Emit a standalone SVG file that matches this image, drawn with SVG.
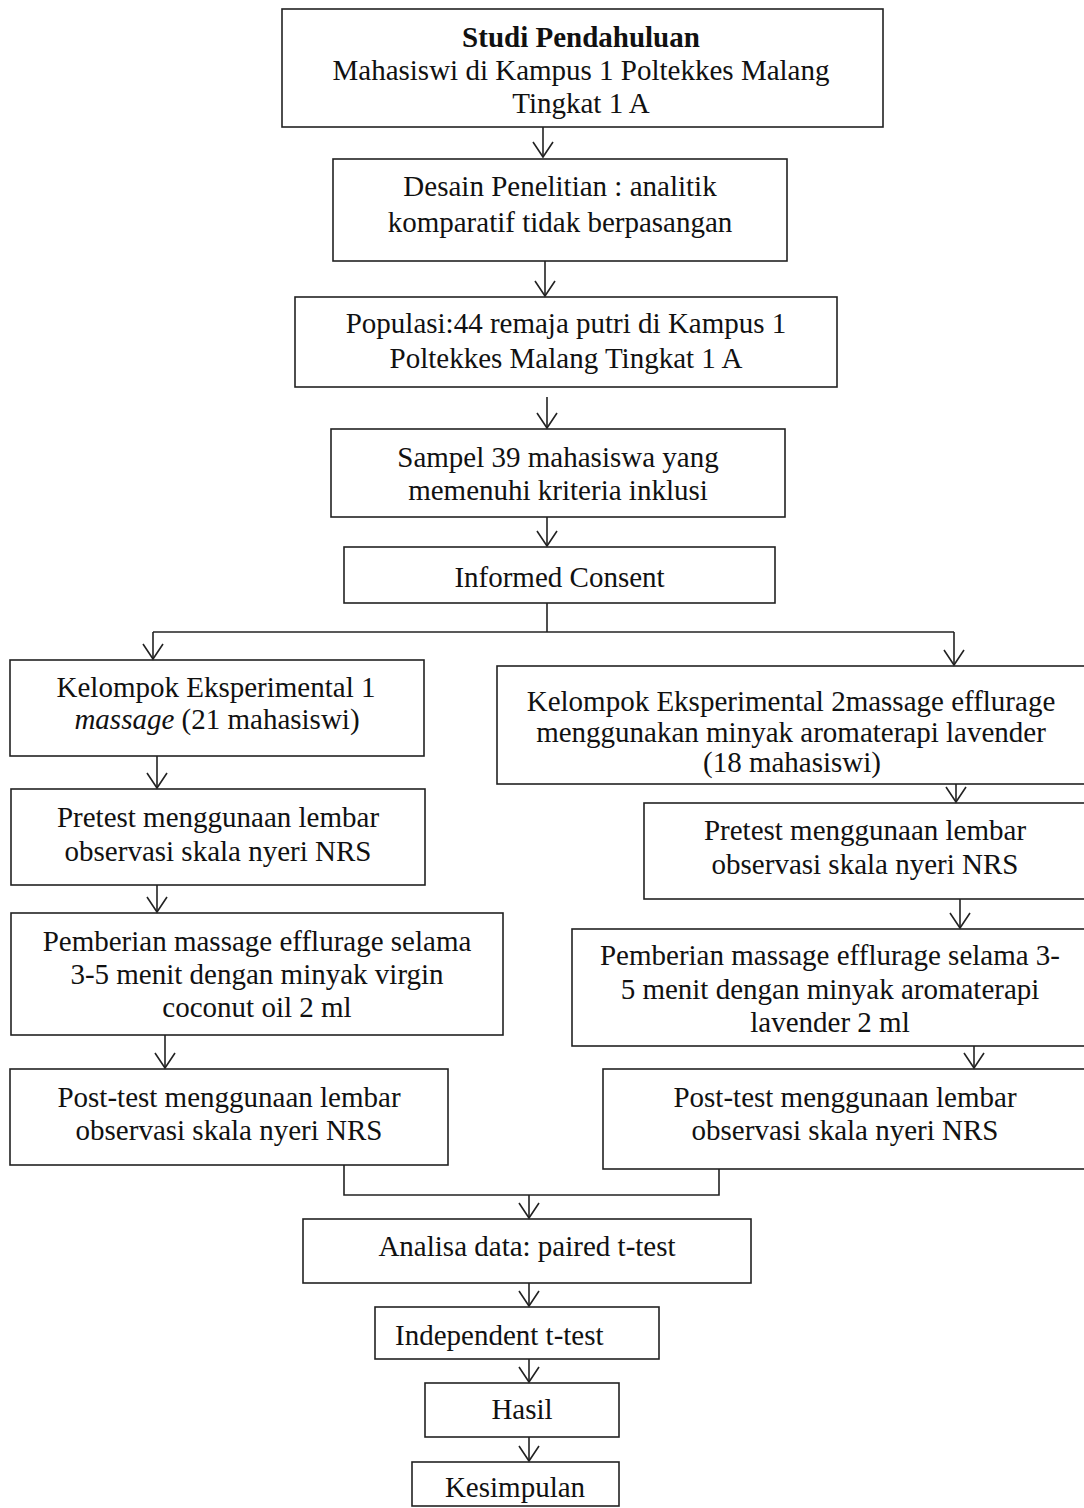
<svg xmlns="http://www.w3.org/2000/svg" width="1084" height="1508" viewBox="0 0 1084 1508">
<style>
.box{fill:#fff;stroke:#222;stroke-width:1.6}
.t{font-family:"Liberation Serif","Times New Roman",serif;font-size:29px;fill:#111;text-anchor:middle}
.c{fill:none;stroke:#222;stroke-width:1.6}
</style>
<defs>
<marker id="ah" markerUnits="userSpaceOnUse" markerWidth="40" markerHeight="40" viewBox="-20 -20 40 40" refX="0" refY="0" orient="auto" overflow="visible">
<path d="M-15,-10 L0,0 L-15,10" fill="none" stroke="#222" stroke-width="1.6"/>
</marker>
</defs>
<rect width="1084" height="1508" fill="#fff"/>
<g id="n1"><rect class="box" x="282" y="9" width="601" height="118"/>
<text class="t" x="581" y="47" font-weight="bold">Studi Pendahuluan</text>
<text class="t" x="581" y="80">Mahasiswi di Kampus 1 Poltekkes Malang</text>
<text class="t" x="581" y="113">Tingkat 1 A</text></g>
<g id="n2"><rect class="box" x="333" y="159" width="454" height="102"/>
<text class="t" x="560" y="196">Desain Penelitian : analitik</text>
<text class="t" x="560" y="232">komparatif tidak berpasangan</text></g>
<g id="n3"><rect class="box" x="295" y="297" width="542" height="90"/>
<text class="t" x="566" y="333">Populasi:44 remaja putri di Kampus 1</text>
<text class="t" x="566" y="368">Poltekkes Malang Tingkat 1 A</text></g>
<g id="n4"><rect class="box" x="331" y="429" width="454" height="88"/>
<text class="t" x="558" y="467">Sampel 39 mahasiswa yang</text>
<text class="t" x="558" y="500">memenuhi kriteria inklusi</text></g>
<g id="n5"><rect class="box" x="344" y="547" width="431" height="56"/>
<text class="t" x="559.5" y="587" font-size="31">Informed Consent</text></g>
<g id="a1"><rect class="box" x="10" y="660" width="414" height="96"/>
<text class="t" x="216" y="697">Kelompok Eksperimental 1</text>
<text class="t" x="217" y="729"><tspan font-style="italic">massage</tspan> (21 mahasiswi)</text></g>
<g id="b1"><rect class="box" x="497" y="666" width="600" height="118"/>
<text class="t" x="791" y="711">Kelompok Eksperimental 2massage efflurage</text>
<text class="t" x="791" y="742">menggunakan minyak aromaterapi lavender</text>
<text class="t" x="792" y="772">(18 mahasiswi)</text></g>
<g id="a2"><rect class="box" x="11" y="789" width="414" height="96"/>
<text class="t" x="218" y="827">Pretest menggunaan lembar</text>
<text class="t" x="218" y="861">observasi skala nyeri NRS</text></g>
<g id="b2"><rect class="box" x="644" y="803" width="450" height="96"/>
<text class="t" x="865" y="840">Pretest menggunaan lembar</text>
<text class="t" x="865" y="874">observasi skala nyeri NRS</text></g>
<g id="a3"><rect class="box" x="11" y="913" width="492" height="122"/>
<text class="t" x="257" y="951">Pemberian massage efflurage selama</text>
<text class="t" x="257" y="984">3-5 menit dengan minyak virgin</text>
<text class="t" x="257" y="1017">coconut oil 2 ml</text></g>
<g id="b3"><rect class="box" x="572" y="929" width="520" height="117"/>
<text class="t" x="830" y="965">Pemberian massage efflurage selama 3-</text>
<text class="t" x="830" y="999">5 menit dengan minyak aromaterapi</text>
<text class="t" x="830" y="1032">lavender 2 ml</text></g>
<g id="a4"><rect class="box" x="10" y="1069" width="438" height="96"/>
<text class="t" x="229" y="1107">Post-test menggunaan lembar</text>
<text class="t" x="229" y="1140">observasi skala nyeri NRS</text></g>
<g id="b4"><rect class="box" x="603" y="1069" width="490" height="100"/>
<text class="t" x="845" y="1107">Post-test menggunaan lembar</text>
<text class="t" x="845" y="1140">observasi skala nyeri NRS</text></g>
<g id="c1"><rect class="box" x="303" y="1219" width="448" height="64"/>
<text class="t" x="527" y="1256">Analisa data: paired t-test</text></g>
<g id="c2"><rect class="box" x="375" y="1307" width="284" height="52"/>
<text class="t" x="395" y="1345" style="text-anchor:start">Independent t-test</text></g>
<g id="c3"><rect class="box" x="425" y="1383" width="194" height="54"/>
<text class="t" x="522" y="1419">Hasil</text></g>
<g id="c4"><rect class="box" x="412" y="1462" width="207" height="44"/>
<text class="t" x="515" y="1497">Kesimpulan</text></g>
<g id="connectors">
<path class="c" d="M543,127 V157" marker-end="url(#ah)"/>
<path class="c" d="M545,261 V296" marker-end="url(#ah)"/>
<path class="c" d="M547,397 V428" marker-end="url(#ah)"/>
<path class="c" d="M547,517 V546" marker-end="url(#ah)"/>
<path class="c" d="M547,603 V632"/>
<path class="c" d="M153,632 H954"/>
<path class="c" d="M153,632 V659" marker-end="url(#ah)"/>
<path class="c" d="M954,632 V665" marker-end="url(#ah)"/>
<path class="c" d="M157,756 V788" marker-end="url(#ah)"/>
<path class="c" d="M157,885 V912" marker-end="url(#ah)"/>
<path class="c" d="M165,1035 V1068" marker-end="url(#ah)"/>
<path class="c" d="M956,784 V802" marker-end="url(#ah)"/>
<path class="c" d="M960,899 V928" marker-end="url(#ah)"/>
<path class="c" d="M974,1046 V1068" marker-end="url(#ah)"/>
<path class="c" d="M344,1165 V1195 H719 V1169"/>
<path class="c" d="M529,1195 V1218" marker-end="url(#ah)"/>
<path class="c" d="M529,1283 V1306" marker-end="url(#ah)"/>
<path class="c" d="M529,1359 V1382" marker-end="url(#ah)"/>
<path class="c" d="M529,1437 V1461" marker-end="url(#ah)"/>
</g>
</svg>
